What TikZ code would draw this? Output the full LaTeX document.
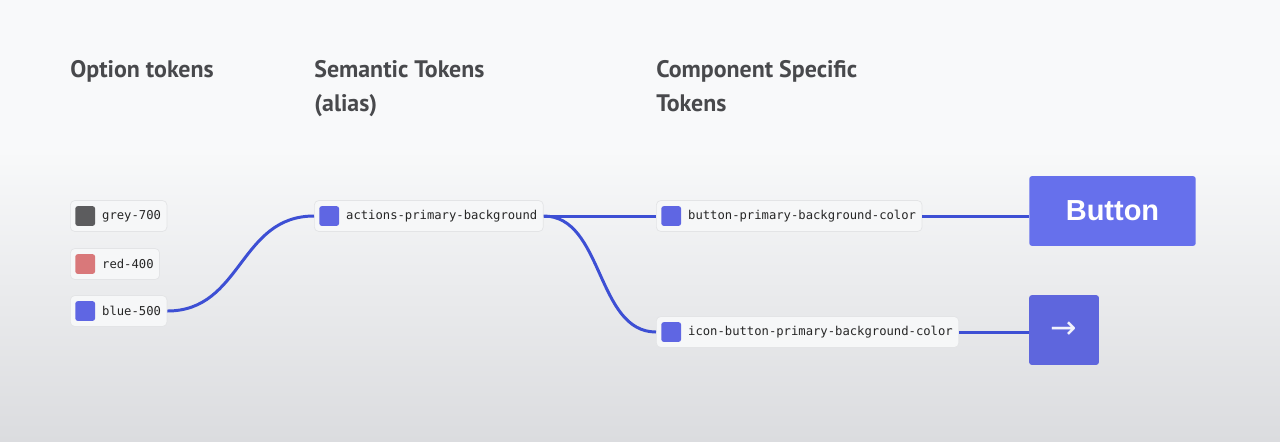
\documentclass[tikz,border=0pt]{standalone}
\usepackage{fontspec}
\setmainfont{PT Sans}
\setmonofont{DejaVu Sans Mono}
\newfontfamily\btnfont{Liberation Sans}
\newfontfamily\arrowfont{DejaVu Sans}
\usetikzlibrary{positioning}

\definecolor{headgrey}{HTML}{48494C}
\definecolor{linkblue}{HTML}{3D4FD4}
\definecolor{swgrey}{HTML}{5C5C5E}
\definecolor{swred}{HTML}{D9787A}
\definecolor{swblue}{HTML}{5F66E3}
\definecolor{tokfill}{HTML}{F6F7F8}
\definecolor{tokedge}{HTML}{E3E4E6}
\definecolor{btnfill}{HTML}{6670EC}
\definecolor{iconfill}{HTML}{5E66DD}

\tikzset{
  head/.style={anchor=north west, inner sep=0pt, align=left, text=headgrey,
    font=\bfseries\fontsize{13.6}{19.3}\selectfont},
  tok/.style={draw=tokedge, fill=tokfill, rounded corners=2.5pt, anchor=west,
    minimum height=17.6pt, inner xsep=3.4pt, inner ysep=0pt, text=black!85,
    font=\ttfamily\fontsize{6.95}{8}\selectfont,
    path picture={\fill[#1, rounded corners=1.5pt]
      ([xshift=2.8pt, yshift=-5.65pt]path picture bounding box.west) rectangle ++(11.3pt,11.3pt);}},
  link/.style={draw=linkblue, line width=1.7pt},
  comp/.style={rounded corners=1.5pt, text=white, inner sep=0pt}
}

\begin{document}
\begin{tikzpicture}[x=0.02cm, y=-0.02cm]
    % background
    \useasboundingbox (0,0) rectangle (1280,441);
    \fill[color={rgb,255:red,248;green,249;blue,250}] (0,0) rectangle (1280,150);
    \shade[top color={rgb,255:red,248;green,249;blue,250}, bottom color={rgb,255:red,219;green,220;blue,223}]
        (0,149) rectangle (1280,441);

    % headings
    \node[head] (hopt) at (70,60) {Option tokens};
    \node[head] (hsem) at (314,60) {Semantic Tokens\\(alias)};
    \node[head] (hcomp) at (656,60) {Component Specific\\Tokens};

    % tokens
    \node[tok=swgrey] (grey) at (70,216) {\hspace*{14.7pt}grey-700};
    \node[tok=swred] (red) at (70,264) {\hspace*{14.7pt}red-400};
    \node[tok=swblue] (blue) at (70,311) {\hspace*{14.7pt}blue-500};
    \node[tok=swblue] (actions) at (314,216) {\hspace*{14.7pt}actions-primary-background};
    \node[tok=swblue] (btnbg) at (656,216) {\hspace*{14.7pt}button-primary-background-color};
    \node[tok=swblue] (iconbg) at (656,332) {\hspace*{14.7pt}icon-button-primary-background-color};

    % components
    \node[comp, fill=btnfill, minimum width=94.7pt, minimum height=39.7pt,
        font=\btnfont\bfseries\fontsize{16.5}{18}\selectfont] (button) at (1112.5,211) {Button};
    \node[comp, fill=iconfill, minimum width=39.7pt, minimum height=39.7pt, text=white!92!iconfill,
        font=\arrowfont\fontsize{18}{18}\selectfont] (iconbtn) at (1064,330) {→};

    % links
    \draw[link] (blue.east) .. controls +(75,0) and +(-75,0) .. (actions.west);
    \draw[link] (actions.east) -- (btnbg.west);
    \draw[link] (actions.east) .. controls +(60,0) and +(-60,0) .. (iconbg.west);
    \draw[link] (btnbg.east) -- (button.west |- btnbg.east);
    \draw[link] (iconbg.east) -- (iconbtn.west |- iconbg.east);
\end{tikzpicture}
\end{document}
